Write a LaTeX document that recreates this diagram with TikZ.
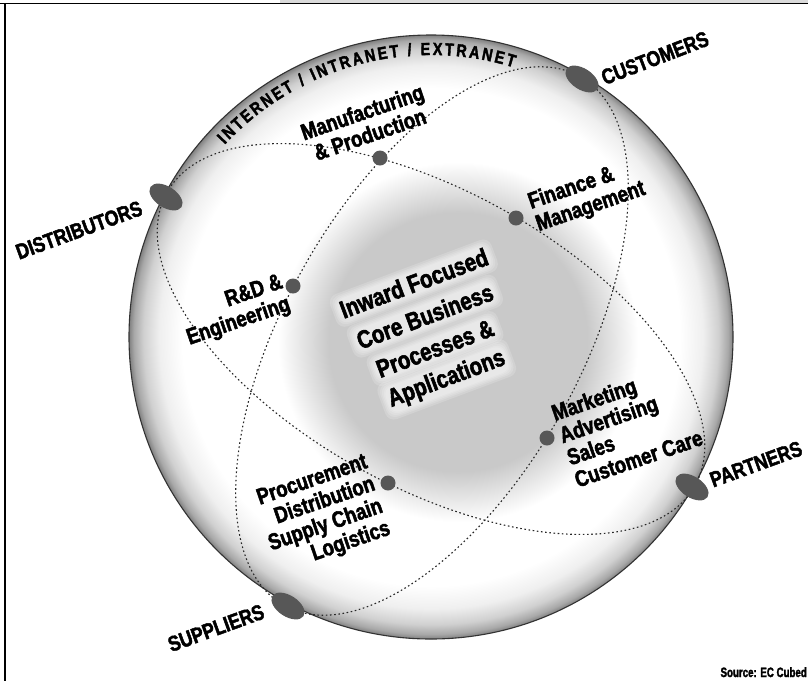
\documentclass[tikz,border=0pt]{standalone}
\usepackage{fontspec}
\setmainfont{Liberation Sans}[FakeStretch=0.82, BoldFeatures={FakeBold=2.2}]
\newfontfamily\xSrcFam{Liberation Sans}[FakeStretch=0.72, BoldFeatures={FakeBold=2.2}]
\usetikzlibrary{decorations.text,shapes.geometric}

\definecolor{mkgrey}{HTML}{575757}
\definecolor{coregrey}{HTML}{C9C9C9}
\definecolor{rim1}{HTML}{EFEFEF}
\definecolor{rim2}{HTML}{D0D0D0}
\definecolor{rim3}{HTML}{A8A8A8}
\definecolor{rim4}{HTML}{808080}
\definecolor{framegrey}{HTML}{DADADA}

\pgfdeclareradialshading{spheresh}{\pgfpoint{0bp}{0bp}}{color(0bp)=(white); color(20.6bp)=(white); color(22.5bp)=(rim1); color(23.8bp)=(rim2); color(24.6bp)=(rim3); color(25bp)=(rim4); color(50bp)=(rim4)}
\pgfdeclareradialshading{coresh}{\pgfpoint{0bp}{0bp}}{color(0bp)=(coregrey); color(18bp)=(coregrey); color(25bp)=(white); color(50bp)=(white)}

\newcommand\xOuterF{\bfseries\fontsize{21.6}{22}\selectfont}
\newcommand\xLblF{\bfseries\fontsize{22.7}{23.5}\selectfont}
\newcommand\xCoreF{\bfseries\fontsize{25}{33}\selectfont}
\newcommand\xBannerF{\bfseries\fontsize{17.5}{18}\selectfont}
\newcommand\xSrcF{\xSrcFam\bfseries\fontsize{13.5}{14}\selectfont}

\begin{document}
\begin{tikzpicture}[x=1pt,y=1pt,
  orbit/.style={black!85, line width=1.1pt, dash pattern=on 1.6pt off 2.6pt},
  marker/.style={ellipse, fill=mkgrey, minimum width=37pt, minimum height=21pt, inner sep=0pt, rotate=-33},
  dotnode/.style={circle, fill=mkgrey, minimum size=15pt, inner sep=0pt},
  outer/.style={font=\xOuterF, inner sep=0pt},
  lbl/.style={font=\xLblF, inner sep=0pt, rotate=19},
  coretext/.style={font=\xCoreF, inner sep=0pt, rotate=20.5, anchor=base},
  glowband/.style={font=\xCoreF, rotate=20.5, anchor=base, fill=white, fill opacity=0.17, rounded corners=9pt}
]
\useasboundingbox (0,0) rectangle (808,-681);
% frame
\fill[framegrey] (280,0) rectangle (808,-3);
\draw[line width=1.3pt] (0,-3.8) -- (808,-3.8);
\draw[line width=1.3pt] (5,-3.8) -- (5,-681);

% sphere
\shade[shading=spheresh] (431,-337) circle[radius=302];
\draw[line width=1.1pt, black!80] (431,-337) circle[radius=302];
% core grey area
\shade[shading=coresh] (458,-342) circle[radius=180];

% orbits
\draw[orbit, rotate around={-29:(431,-339)}] (431,-339) ellipse[x radius=302, y radius=148];
\draw[orbit, rotate around={60.8:(432,-341)}] (432,-341) ellipse[x radius=303, y radius=148];

% banner along the rim
\path[decorate, decoration={text along path, text={|\xBannerF|INTERNET / INTRANET / EXTRANET}, text align=fit to path}]
  (431,-337) ++(137:282) arc[start angle=137, end angle=73, radius=282];

% markers on the rim
\node[marker] (custm) at (582,-79) {};
\node[marker] (distm) at (166,-197) {};
\node[marker] (partm) at (692,-487) {};
\node[marker] (suppm) at (288,-606) {};

% process dots
\node[dotnode] (manufd) at (380,-158) {};
\node[dotnode] (finad) at (516,-218) {};
\node[dotnode] (rndd) at (293,-286) {};
\node[dotnode] (mktd) at (547,-438) {};
\node[dotnode] (procd) at (388,-483) {};

% outer labels
\node[outer, rotate=21] (custl) at (655,-58) {CUSTOMERS};
\node[outer, rotate=20] (distl) at (79,-230) {DISTRIBUTORS};
\node[outer, rotate=20] (partl) at (756,-464) {PARTNERS};
\node[outer, rotate=20] (suppl) at (216,-628) {SUPPLIERS};

% process labels
\node[lbl, align=center] (manufl) at (366,-123) {Manufacturing\\\& Production};
\node[lbl, align=left] (final) at (587,-196) {Finance \&\\Management};
\node[lbl, align=right] (rndl) at (235,-311) {R\&D \&\\Engineering};
\node[lbl, align=left] (mktl) at (627,-425) {Marketing\\Advertising\\Sales\\Customer Care};
\node[lbl, align=right] (procl) at (322,-515) {Procurement\\Distribution\\Supply Chain\\Logistics};

% core text with a soft white glow behind each line
\foreach \txt/\px/\py [count=\i] in {Inward Focused/417/291.5, Core Business/428/324.5, Processes \&/438/356.5, Applications/449/385.5} {
  \foreach \s [count=\j] in {8,6,4.5,3,1.8} {
    \node[glowband, inner sep=\s pt] (glow\i\j) at (\px,-\py) {\phantom{\txt}};
  }
  \node[coretext] (core\i) at (\px,-\py) {\txt};
}

% source
\node[anchor=base east, font=\xSrcF, inner sep=0pt] (src) at (807,-677) {Source: EC Cubed};
\end{tikzpicture}
\end{document}
